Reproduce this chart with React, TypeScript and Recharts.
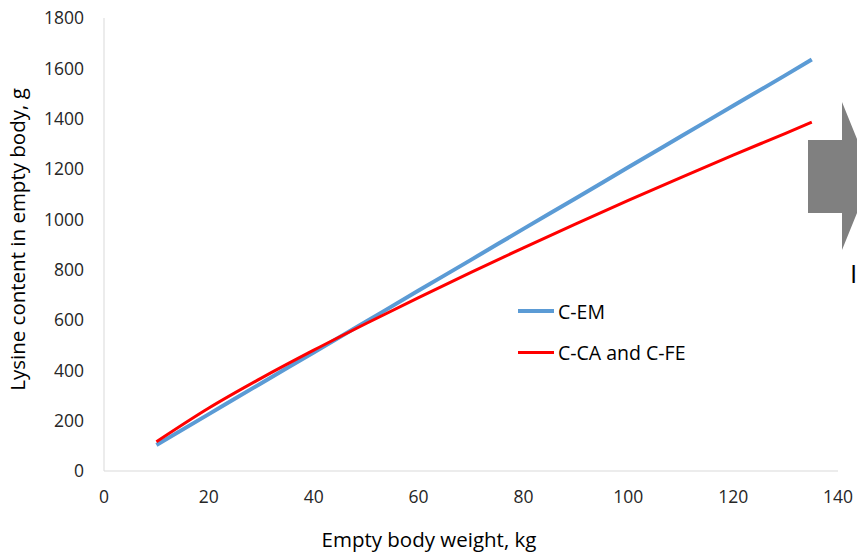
import { LineChart, Line, XAxis, YAxis } from "recharts";

const weights = [10, 20, 30, 40, 50, 60, 70, 80, 90, 100, 110, 120, 130, 135];
const cEM = [103, 226, 349, 471, 594, 717, 839, 962, 1084, 1207, 1329, 1451, 1573, 1635];
const cCAFE = [116, 250, 369, 480, 586, 689, 789, 887, 982, 1075, 1166, 1255, 1342, 1386];
const xTicks = [0, 20, 40, 60, 80, 100, 120, 140];
const yTicks = [0, 200, 400, 600, 800, 1000, 1200, 1400, 1600, 1800];

const data = weights.map((w, i) => ({ ebw: w, em: cEM[i], cafe: cCAFE[i] }));

const FONT = "'Open Sans', sans-serif";
const TXT = "#262626";

const LegendBox = () => (
  <div style={{ position: "absolute", left: 518, top: 297, fontFamily: FONT, fontSize: 19.5, color: "#000" }}>
    <div style={{ display: "flex", alignItems: "center", height: 28 }}>
      <span style={{ width: 36, height: 4, background: "#5B9BD5", marginRight: 4 }} />
      C-EM
    </div>
    <div style={{ display: "flex", alignItems: "center", height: 28, marginTop: 13 }}>
      <span style={{ width: 36, height: 3, background: "#FF0000", marginRight: 4 }} />
      C-CA and C-FE
    </div>
  </div>
);

export default function App() {
  return (
    <div style={{ position: "absolute", left: 0, top: 0, width: 857, height: 555, background: "#fff", overflow: "hidden" }}>
      <LineChart width={857} height={555} data={data} margin={{ top: 18, right: 19, left: 0, bottom: 0 }}>
        <XAxis
          dataKey="ebw"
          type="number"
          domain={[0, 140]}
          ticks={xTicks}
          tickLine={false}
          axisLine={{ stroke: "#D9D9D9" }}
          tick={{ fill: TXT, fontSize: 17.5, fontFamily: FONT }}
          tickMargin={14}
          height={84}
          label={{ value: "Empty body weight, kg", position: "insideBottom", offset: 8, dx: -42, style: { fill: "#000", fontSize: 20.5, fontFamily: FONT } }}
        />
        <YAxis
          type="number"
          domain={[0, 1800]}
          ticks={yTicks}
          tickLine={false}
          axisLine={{ stroke: "#D9D9D9" }}
          tick={{ fill: TXT, fontSize: 17.5, fontFamily: FONT }}
          tickMargin={14}
          width={104}
          label={{ value: "Lysine content in empty body, g", angle: -90, position: "insideLeft", offset: 18, dy: -5, style: { textAnchor: "middle", fill: "#000", fontSize: 20.5, fontFamily: FONT } }}
        />
        <Line type="monotone" dataKey="em" stroke="#5B9BD5" strokeWidth={4} dot={false} isAnimationActive={false} />
        <Line type="monotone" dataKey="cafe" stroke="#FF0000" strokeWidth={3} dot={false} isAnimationActive={false} />
      </LineChart>
      <LegendBox />
      <svg width={857} height={555} style={{ position: "absolute", left: 0, top: 0, pointerEvents: "none" }}>
        <polygon points="808,140 842,140 842,102 872,176 842,250 842,213 808,213" fill="#808080" />
        <text x={850} y={283} fontFamily={FONT} fontSize={26} fill="#000">I</text>
      </svg>
    </div>
  );
}
